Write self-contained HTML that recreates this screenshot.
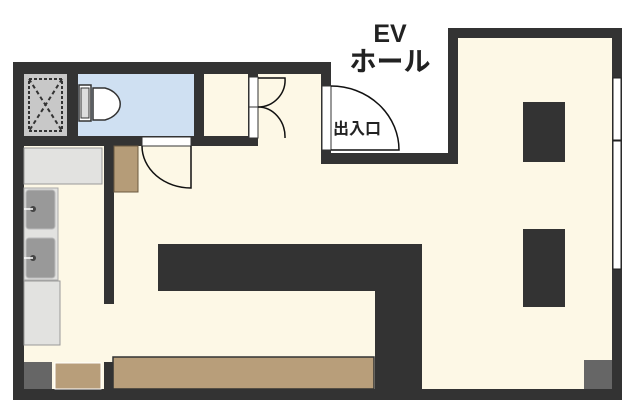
<!DOCTYPE html>
<html><head><meta charset="utf-8"><style>
html,body{margin:0;padding:0;background:#fff;width:640px;height:412px;overflow:hidden}
</style></head><body>
<svg width="640" height="412" viewBox="0 0 640 412" xmlns="http://www.w3.org/2000/svg">
<path d="M13 62 H331 V153 H448 V28 H622 V400 H13 Z" fill="#333"/>
<path d="M24 146 H321 V164 H458 V38 H612 V389 H24 Z" fill="#fdf8e6"/>
<rect x="258" y="74" width="63" height="80" fill="#fdf8e6"/>
<rect x="24" y="74" width="43" height="62" fill="#c8c8c8"/>
<rect x="29" y="79" width="33" height="52" fill="none" stroke="#333" stroke-width="2" stroke-dasharray="3,2"/>
<path d="M29 79 L62 131 M62 79 L29 131" stroke="#333" stroke-width="2" stroke-dasharray="4,3"/>
<rect x="78" y="74" width="116" height="62" fill="#cfe0f2"/>
<rect x="79" y="85" width="12" height="36" fill="#fff" stroke="#333" stroke-width="1.5"/>
<rect x="81" y="88" width="8" height="30" fill="#ddd" stroke="#333" stroke-width="1"/>
<path d="M93 88 H105 A23 17 0 0 1 105 120 H93 Z" fill="#fff" stroke="#333" stroke-width="1.5"/>
<rect x="204" y="74" width="44" height="62" fill="#fdf8e6"/>
<rect x="249" y="77" width="9" height="61" fill="#fff" stroke="#333" stroke-width="1"/>
<line x1="249" y1="107" x2="258" y2="107" stroke="#333"/>
<path d="M258 78 H285 A27 27 0 0 1 258 107 A27 30 0 0 1 285 138" fill="none" stroke="#111" stroke-width="1.5"/>
<rect x="142" y="137" width="49" height="9" fill="#fff" stroke="#333" stroke-width="1"/>
<path d="M142 146 A49 42 0 0 0 191 188 V146" fill="none" stroke="#111" stroke-width="1.5"/>
<rect x="24" y="148" width="78" height="36" fill="#e2e2e0" stroke="#999" stroke-width="1"/>
<rect x="24" y="188" width="34" height="92" fill="#e2e2e0" stroke="#aaa" stroke-width="1"/>
<rect x="26" y="190" width="29" height="39" rx="3" fill="#999" stroke="#bbb"/>
<rect x="26" y="238" width="29" height="40" rx="3" fill="#999" stroke="#bbb"/>
<circle cx="33" cy="209" r="3" fill="#444"/><line x1="24" y1="209" x2="33" y2="209" stroke="#fff" stroke-width="1.5"/>
<circle cx="33" cy="258" r="3" fill="#444"/><line x1="24" y1="258" x2="33" y2="258" stroke="#fff" stroke-width="1.5"/>
<rect x="24" y="281" width="36" height="64" fill="#e2e2e0" stroke="#999" stroke-width="1"/>
<rect x="104" y="146" width="10" height="158" fill="#333"/>
<rect x="114" y="146" width="24" height="46" fill="#b59c78" stroke="#6b5a40" stroke-width="1"/>
<path d="M158 244 H422 V389 H375 V291 H158 Z" fill="#333"/>
<rect x="113" y="357" width="261" height="32" fill="#b89e7a" stroke="#333" stroke-width="1.5"/>
<rect x="104" y="362" width="9" height="28" fill="#333"/>
<rect x="55" y="363" width="46" height="26" fill="#b89e7a" stroke="#fff" stroke-width="1"/>
<rect x="24" y="362" width="28" height="27" fill="#666"/>
<rect x="584" y="360" width="28" height="29" fill="#666"/>
<rect x="523" y="102" width="42" height="60" fill="#333"/>
<rect x="523" y="229" width="42" height="78" fill="#333"/>
<rect x="613" y="78" width="8" height="62" fill="#fff" stroke="#222" stroke-width="1"/>
<rect x="613" y="141" width="8" height="128" fill="#fff" stroke="#222" stroke-width="1"/>
<rect x="322" y="86" width="9" height="64" fill="#fff" stroke="#333" stroke-width="1"/>
<path d="M331 86 A68 64 0 0 1 399 150 H331" fill="none" stroke="#111" stroke-width="1.5"/>
<text x="333" y="134" font-family="Liberation Sans, Noto Sans CJK JP, sans-serif" font-size="16" font-weight="bold" fill="#222">出入口</text>
<text x="390" y="42" text-anchor="middle" font-family="Liberation Sans, Noto Sans CJK JP, sans-serif" font-size="25" font-weight="bold" fill="#222">EV</text>
<text x="390" y="71" text-anchor="middle" font-family="Liberation Sans, Noto Sans CJK JP, sans-serif" font-size="27" font-weight="bold" fill="#222">ホール</text>
</svg>
</body></html>
